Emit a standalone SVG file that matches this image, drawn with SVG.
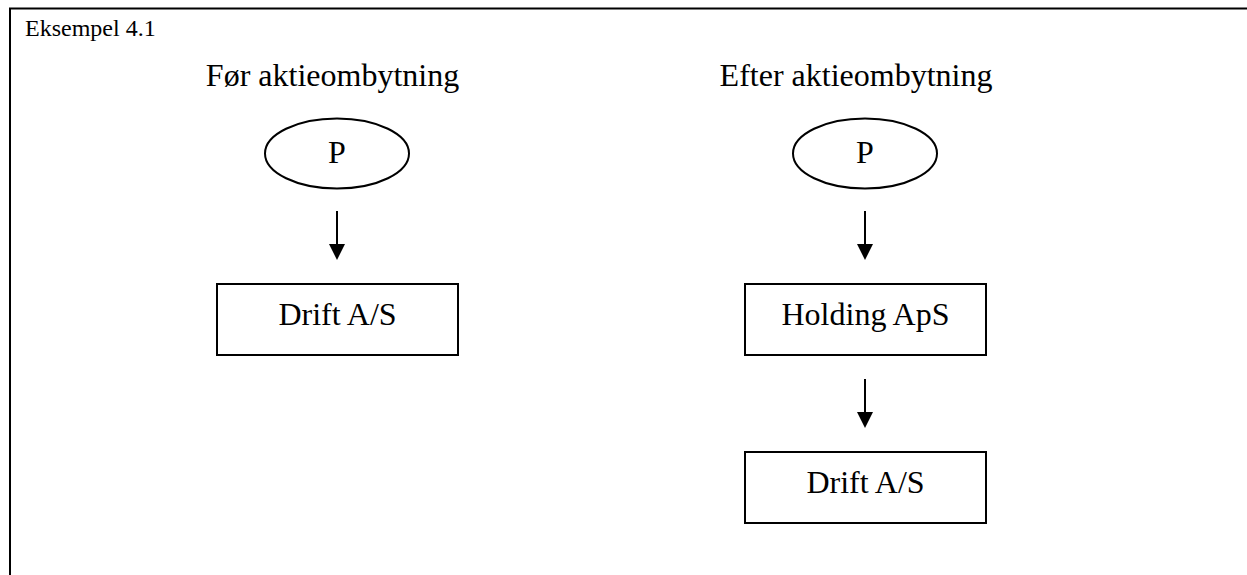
<svg xmlns="http://www.w3.org/2000/svg" width="1247" height="575" viewBox="0 0 1247 575">
<style>
  text { font-family: "Liberation Serif", "DejaVu Serif", serif; fill: #000; }
  .lbl { font-size: 32px; }
  .box { fill: #fff; stroke: #000; stroke-width: 2; }
  .conn { stroke: #000; stroke-width: 2; fill: none; }
  .frame { stroke: #000; stroke-width: 2; fill: none; }
</style>
<defs>
  <marker id="ah" markerUnits="userSpaceOnUse" markerWidth="16" markerHeight="16" refX="6" refY="8" orient="auto">
    <path d="M0,0 L16,8 L0,16 z" fill="#000"/>
  </marker>
</defs>
<rect width="1247" height="575" fill="#fff"/>
<g id="frame">
  <line class="frame" x1="9" y1="8.5" x2="1247" y2="8.5"/>
  <line class="frame" x1="10" y1="8" x2="10" y2="575"/>
  <text font-family="Liberation Serif, serif" x="25" y="36" font-size="24">Eksempel 4.1</text>
</g>
<g id="title-before"><text class="lbl" font-family="Liberation Serif, serif" x="332.5" y="86" text-anchor="middle">Før aktieombytning</text></g>
<g id="title-after"><text class="lbl" font-family="Liberation Serif, serif" x="856" y="86" text-anchor="middle">Efter aktieombytning</text></g>
<g id="p-before">
  <ellipse class="box" cx="337" cy="153.5" rx="72" ry="35"/>
  <text class="lbl" font-family="Liberation Serif, serif" x="337" y="163" text-anchor="middle">P</text>
</g>
<g id="drift-before">
  <rect class="box" x="217" y="284" width="241" height="71"/>
  <text class="lbl" font-family="Liberation Serif, serif" x="337.5" y="325" text-anchor="middle">Drift A/S</text>
</g>
<g id="p-after">
  <ellipse class="box" cx="865" cy="153.5" rx="72" ry="35"/>
  <text class="lbl" font-family="Liberation Serif, serif" x="865" y="163" text-anchor="middle">P</text>
</g>
<g id="holding-after">
  <rect class="box" x="745" y="284" width="241" height="71"/>
  <text class="lbl" font-family="Liberation Serif, serif" x="865.5" y="325" text-anchor="middle">Holding ApS</text>
</g>
<g id="drift-after">
  <rect class="box" x="745" y="452" width="241" height="71"/>
  <text class="lbl" font-family="Liberation Serif, serif" x="865.5" y="493" text-anchor="middle">Drift A/S</text>
</g>
<g id="connectors">
  <line class="conn" x1="337" y1="211" x2="337" y2="250" marker-end="url(#ah)"/>
  <line class="conn" x1="865" y1="211" x2="865" y2="250" marker-end="url(#ah)"/>
  <line class="conn" x1="865" y1="379" x2="865" y2="418" marker-end="url(#ah)"/>
</g>
</svg>
